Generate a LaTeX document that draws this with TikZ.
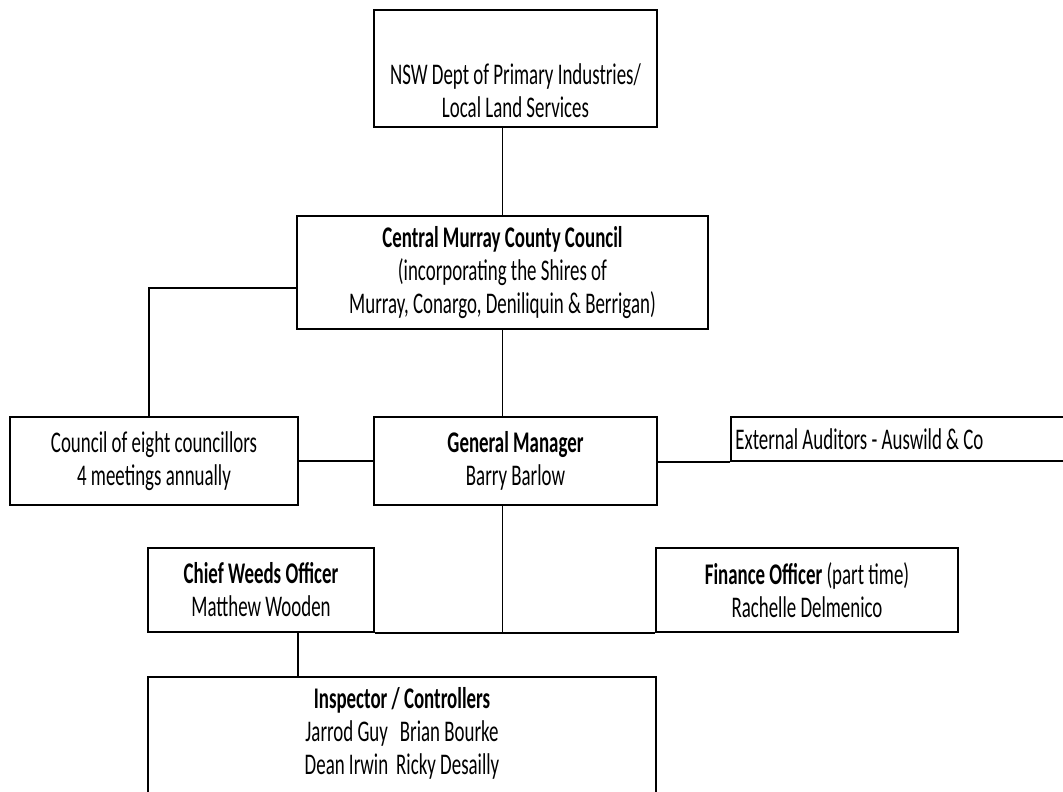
\documentclass[tikz,border=0pt]{standalone}
\usepackage{fontspec}
\setmainfont{Carlito}[FakeStretch=0.63]
\begin{document}
\begin{tikzpicture}[x=1pt, y=-1pt, every node/.style={font=\fontsize{30}{33}\selectfont, align=center},
	unit/.style={draw, line width=1.8pt, inner sep=0pt},
	link/.style={line width=1.4pt}]
	\path[use as bounding box, clip] (0,0) rectangle (1063,792);
	\node[unit, minimum width=283, minimum height=117] (nsw) at (515.5,68.5) {};
	\node (nswtext) at (515.5,91) {NSW Dept of Primary Industries/\\Local Land Services};
	\node[unit, minimum width=411, minimum height=113] (cmcc) at (502.5,272.5) {\textbf{Central Murray County Council}\\(incorporating the Shires of\\Murray, Conargo, Deniliquin \& Berrigan)};
	\node[unit, minimum width=288, minimum height=88] (council) at (154,461) {Council of eight councillors\\4 meetings annually};
	\node[unit, minimum width=283, minimum height=88] (gm) at (515.5,461) {\textbf{General Manager}\\Barry Barlow};
	\node[unit, minimum width=360, minimum height=44] (ext) at (911,439) {};
	\node[anchor=west, inner xsep=5pt] (exttext) at (ext.west) {External Auditors - Auswild \& Co};
	\node[unit, minimum width=226, minimum height=84] (chief) at (261,590) {\textbf{Chief Weeds Officer}\\Matthew Wooden};
	\node[unit, minimum width=302, minimum height=84] (fin) at (807,590) {\textbf{Finance Officer} (part time)\\Rachelle Delmenico};
	\node[unit, minimum width=508, minimum height=130] (insp) at (402,742) {};
	\node (insptext) at (402,733) {\textbf{Inspector / Controllers}\\Jarrod Guy\hspace{12pt}Brian Bourke\\Dean Irwin\hspace{8pt}Ricky Desailly};
	% connectors
	\draw[link] (cmcc.north) -- (cmcc.north |- nsw.south);
	\draw[link] (cmcc.south) -- (cmcc.south |- gm.north);
	\draw[link] ([yshift=-15.5pt]cmcc.west) -| ([xshift=-5pt]council.north);
	\draw[link] (council.east) -- (council.east -| gm.west);
	\draw[link] (ext.south west) -- (ext.south west -| gm.east);
	\coordinate (gmdrop) at (cmcc.south |- chief.south);
	\draw[link] (cmcc.south |- gm.south) -- (gmdrop);
	\draw[link] (chief.south east) -- (fin.south west);
	\draw[link] ([xshift=37pt]chief.south) -- ([xshift=37pt]chief.south |- insp.north);
\end{tikzpicture}
\end{document}
